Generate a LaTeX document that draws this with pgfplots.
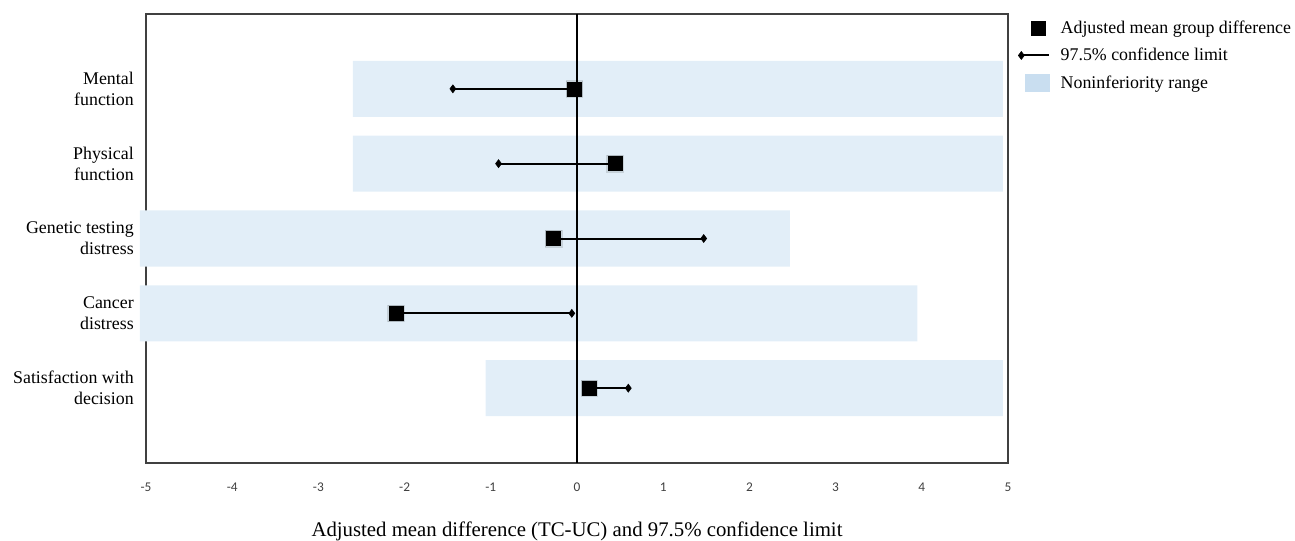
\documentclass[border=0pt]{standalone}
\usepackage{fontspec}
\setmainfont{Liberation Serif}
\newfontfamily\cf{Carlito}
\usepackage{pgfplots}
\pgfplotsset{compat=1.18}
\definecolor{nibar}{HTML}{E2EEF8}
\definecolor{nileg}{HTML}{C9DEF0}
\definecolor{framec}{HTML}{404040}
\definecolor{tickc}{HTML}{404040}
\begin{document}
\begin{tikzpicture}
\begin{axis}[
  scale only axis, width=646.5pt, height=336.75pt,
  xmin=-5, xmax=5, ymin=0, ymax=6, y dir=reverse,
  clip=false,
  axis line style={framec, line width=1.1pt},
  xtick={-5,-4,-3,-2,-1,0,1,2,3,4,5}, ytick={1,2,3,4,5},
  major tick length=0pt,
  yticklabels={{Mental\\function},{Physical\\function},{Genetic testing\\distress},{Cancer\\distress},{Satisfaction with\\decision}},
  yticklabel style={align=right, font=\fontsize{13.4}{15.75}\selectfont, inner sep=0pt, xshift=-9pt},
  xticklabel style={font=\cf\fontsize{10}{12}\selectfont, text=tickc, anchor=center, yshift=-18pt},
  /pgf/number format/assume math mode=true,
  xlabel={Adjusted mean difference (TC-UC) and 97.5\% confidence limit},
  xlabel style={font=\fontsize{15.6}{18}\selectfont, at={(axis description cs:0.5,0)}, anchor=center, yshift=-51.5pt},
  legend style={at={(1,1)}, anchor=north west, xshift=7.3pt, yshift=-3pt, draw=none, fill=none, inner sep=0pt,
    font=\fontsize{13.4}{16}\selectfont, row sep=5.5pt, column sep=3pt,
    nodes={inner ysep=2pt, inner xsep=4pt}},
  legend cell align=left,
]
% noninferiority ranges (two bars from 0 covering lo..hi)
\addplot[xbar, bar width=0.75, bar shift=0pt, draw=none, fill=nibar, forget plot]
  coordinates {(4.94,1) (4.94,2) (2.47,3) (3.95,4) (4.94,5)};
\addplot[xbar, bar width=0.75, bar shift=0pt, draw=none, fill=nibar, forget plot]
  coordinates {(-2.60,1) (-2.60,2) (-5.07,3) (-5.07,4) (-1.06,5)};
% confidence limits
\addplot[black, line width=1.5pt, mark=diamond*, mark indices={2}, mark size=3pt, mark options={solid, line width=0.4pt}, forget plot]
  coordinates {(-0.03,1) (-1.44,1)};
\addplot[black, line width=1.5pt, mark=diamond*, mark indices={2}, mark size=3pt, mark options={solid, line width=0.4pt}, forget plot]
  coordinates {(0.44,2) (-0.91,2)};
\addplot[black, line width=1.5pt, mark=diamond*, mark indices={2}, mark size=3pt, mark options={solid, line width=0.4pt}, forget plot]
  coordinates {(-0.27,3) (1.47,3)};
\addplot[black, line width=1.5pt, mark=diamond*, mark indices={2}, mark size=3pt, mark options={solid, line width=0.4pt}, forget plot]
  coordinates {(-2.10,4) (-0.06,4)};
\addplot[black, line width=1.5pt, mark=diamond*, mark indices={2}, mark size=3pt, mark options={solid, line width=0.4pt}, forget plot]
  coordinates {(0.14,5) (0.595,5)};
% means (soft shadow + square)
\addplot[only marks, mark=square*, mark size=6.2pt, black, opacity=0.12, forget plot]
  coordinates {(-0.03,1) (0.44,2) (-0.27,3) (-2.10,4) (0.14,5)};
\addplot[only marks, mark=square*, mark size=5.25pt, black, forget plot]
  coordinates {(-0.03,1) (0.44,2) (-0.27,3) (-2.10,4) (0.14,5)};
% zero line
\addplot[black, line width=0.8pt, forget plot] coordinates {(0,0) (0,6)};
% legend
\addlegendimage{legend image code/.code={\path[draw=none,fill=none] (-1pt,-6.4pt) rectangle (24pt,6.4pt); \fill[black] (9pt,-5.25pt) rectangle (19.5pt,5.25pt);}}
\addlegendentry{Adjusted mean group difference}
\addlegendimage{legend image code/.code={\path[draw=none,fill=none] (-1pt,-6.4pt) rectangle (24pt,6.4pt); \draw[black, line width=1.5pt] (1.5pt,0pt) -- (22.5pt,0pt); \draw[black, fill=black, line width=0.4pt, mark=diamond*, mark size=3pt] plot coordinates {(1.5pt,0pt)};}}
\addlegendentry{97.5\% confidence limit}
\addlegendimage{legend image code/.code={\path[draw=none,fill=none] (-1pt,-6.4pt) rectangle (24pt,6.4pt); \fill[nileg] (4.5pt,-6.4pt) rectangle (22.5pt,6.4pt);}}
\addlegendentry{Noninferiority range}
\end{axis}
\pgfresetboundingbox
\path (-109.5pt,-58.5pt) rectangle (861.75pt,347.25pt);
\end{tikzpicture}
\end{document}
